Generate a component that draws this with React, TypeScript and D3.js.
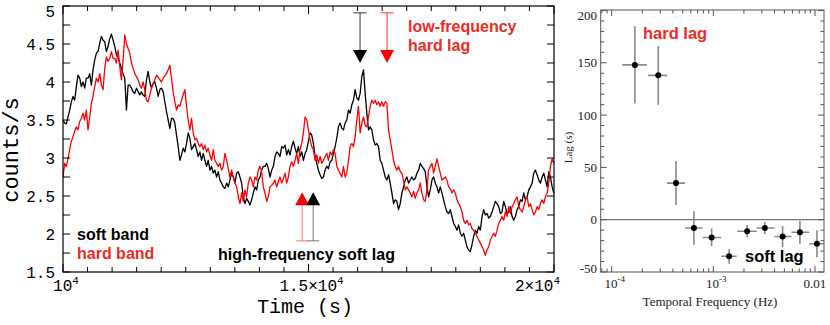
import React from 'react';
import * as d3 from 'd3';

// ---------------- data: light curves (counts/s), regular sampling ----------------
const T_START = 10000;
const T_STEP = 34;

const softBand = [
  3.50, 3.46, 3.45, 3.54, 3.63, 3.74, 3.81, 3.76, 3.94, 4.09,
  4.05, 3.94, 4.00, 3.92, 4.05, 4.05, 4.11, 3.96, 4.16, 4.29,
  4.38, 4.40, 4.51, 4.60, 4.55, 4.53, 4.40, 4.47, 4.57, 4.63,
  4.55, 4.47, 4.36, 4.33, 4.25, 4.18, 4.11, 4.05, 3.63, 3.96,
  3.96, 3.92, 3.87, 3.85, 3.92, 3.87, 3.83, 3.87, 3.83, 3.81,
  4.03, 4.14, 4.00, 3.92, 3.98, 4.00, 3.92, 3.81, 3.90, 3.92,
  3.87, 3.74, 3.61, 3.50, 3.39, 3.52, 3.52, 3.46, 3.30, 3.15,
  2.97, 3.04, 3.13,
  3.08, 3.19, 3.33, 3.26, 3.11, 3.15, 3.19, 3.11, 3.02, 3.08,
  2.97, 3.06, 2.97, 2.89, 2.97, 2.84, 2.89, 2.80, 2.84, 2.75,
  2.82, 2.71, 2.67, 2.62, 2.60, 2.67, 2.62, 2.71, 2.80, 2.75,
  2.67, 2.80, 2.82, 2.75, 2.67, 2.49, 2.40, 2.47, 2.43, 2.38,
  2.45, 2.54, 2.62, 2.58, 2.71, 2.75, 2.84, 2.89, 2.89, 2.93,
  2.86, 2.75, 2.84, 2.89, 3.02, 3.08, 3.06, 3.02, 3.15, 3.13,
  3.17, 3.04, 3.11, 3.04, 3.15, 3.22, 3.13, 3.06, 3.15, 3.02,
  3.08, 2.97,
  3.06, 3.11, 3.22, 3.33, 3.30, 3.19, 3.02, 2.93, 2.84, 2.78,
  2.73, 2.75, 2.84, 2.89, 2.86, 2.95, 2.97, 3.06, 3.15, 3.26,
  3.41, 3.46, 3.39, 3.37, 3.46, 3.50, 3.63, 3.59, 3.70, 3.76,
  3.90, 3.79, 3.76, 3.85, 4.07, 4.16, 3.85, 3.59, 3.37, 3.41,
  3.37, 3.24, 3.17, 3.19, 3.15, 2.97, 2.93, 2.84, 2.75, 2.71,
  2.78, 2.67, 2.54, 2.40, 2.45, 2.43, 2.32, 2.40, 2.54, 2.62,
  2.71, 2.75, 2.67, 2.71, 2.75, 2.71, 2.73, 2.80, 2.84, 2.93,
  2.89, 2.86,
  2.82, 2.62, 2.49, 2.58, 2.71, 2.75, 2.67, 2.62, 2.54, 2.62,
  2.54, 2.45, 2.36, 2.29, 2.27, 2.32, 2.23, 2.14, 2.10, 2.05,
  2.12, 2.01, 1.97, 2.01, 1.92, 1.83, 1.79, 1.77, 1.86, 1.97,
  2.05, 2.01, 2.10, 2.05, 2.23, 2.32, 2.25, 2.27, 2.21, 2.23,
  2.29, 2.36, 2.43, 2.40, 2.36, 2.27, 2.29, 2.43, 2.36, 2.27,
  2.29, 2.36, 2.23, 2.18, 2.23, 2.32, 2.36, 2.45, 2.43, 2.54,
  2.45, 2.49, 2.58, 2.62, 2.67, 2.80, 2.84, 2.78, 2.71, 2.67,
  2.75, 2.80, 2.71, 2.62, 2.82, 2.75, 2.62, 2.54,
];

const hardBand = [
  2.75, 2.93, 2.89, 2.99, 3.11, 3.22, 3.28, 3.35, 3.41, 3.37,
  3.48, 3.52, 3.59, 3.50, 3.63, 3.37, 3.54, 3.72, 3.81, 3.94,
  4.05, 4.00, 4.11, 3.96, 3.90, 4.18, 4.33, 4.27, 4.31, 4.40,
  4.31, 4.31, 4.25, 4.42, 4.20, 4.03, 4.29, 4.62, 4.51, 4.44,
  4.38, 4.25, 4.18, 4.11, 4.07, 4.03, 3.96, 3.92, 4.00, 3.90,
  3.76, 3.74, 3.83, 3.92, 3.98, 4.03, 4.09, 4.06, 4.03, 4.00,
  4.05, 4.08, 4.11, 4.16, 4.22, 4.05, 3.87, 3.74, 3.63, 3.70,
  3.68, 3.76, 3.83,
  3.90, 3.68, 3.50, 3.37, 3.52, 3.33, 3.24, 3.26, 3.19, 3.15,
  3.19, 3.11, 3.17, 3.08, 3.13, 3.04, 2.97, 3.11, 2.97, 2.93,
  2.89, 2.93, 2.84, 2.89, 3.06, 2.97, 2.86, 2.75, 2.84, 2.75,
  2.67, 2.62, 2.49, 2.40, 2.54, 2.43, 2.58, 2.49, 2.67, 2.75,
  2.71, 2.62, 2.75, 2.71, 2.84, 2.89, 2.82, 2.62, 2.54, 2.43,
  2.49, 2.62, 2.64, 2.67, 2.71, 2.62, 2.69, 2.75, 2.67, 2.73,
  2.80, 2.67, 2.75, 2.89, 2.95, 2.89, 2.97, 3.06, 2.93, 3.11,
  3.19, 3.33,
  3.54, 3.50, 3.37, 3.24, 3.15, 3.11, 2.97, 3.04, 2.93, 3.02,
  2.93, 2.97, 3.02, 3.06, 2.97, 3.08, 3.04, 3.11, 3.06, 2.89,
  2.84, 2.80, 2.75, 2.89, 2.75, 2.80, 2.97, 3.15, 3.19, 3.15,
  3.28, 3.50, 3.68, 3.33, 3.46, 3.54, 3.43, 3.41, 3.54, 3.68,
  3.76, 3.72, 3.76, 3.70, 3.74, 3.68, 3.74, 3.68, 3.74, 3.72,
  3.37, 3.24, 3.11, 2.97, 2.89, 2.84, 2.89, 2.82, 2.80, 2.71,
  2.58, 2.62, 2.58, 2.54, 2.49, 2.56, 2.47, 2.54, 2.58, 2.67,
  2.54, 2.45,
  2.43, 2.58, 2.84, 2.89, 2.93, 2.80, 2.89, 2.99, 2.89, 2.80,
  2.71, 2.73, 2.75, 2.71, 2.62, 2.60, 2.54, 2.58, 2.54, 2.45,
  2.40, 2.36, 2.29, 2.18, 2.14, 2.18, 2.12, 2.14, 2.07, 2.05,
  2.01, 1.97, 1.92, 1.88, 1.83, 1.79, 1.72, 1.79, 1.83, 1.92,
  1.97, 2.01, 1.97, 2.05, 2.14, 2.18, 2.23, 2.18, 2.29, 2.23,
  2.36, 2.27, 2.36, 2.40, 2.45, 2.49, 2.36, 2.32, 2.29, 2.36,
  2.45, 2.49, 2.36, 2.40, 2.32, 2.25, 2.29, 2.36, 2.32, 2.40,
  2.45, 2.40, 2.49, 2.54, 2.67, 2.89, 2.99, 2.93,
];

// left axis ticks
const timeDomain = [10000, 20000];
const countDomain = [1.5, 5];
const countTickLabels = [1.5, 2, 2.5, 3, 3.5, 4, 4.5, 5];
const timeTickLabels = [
  { t: 10000, base: '10', exp: '4' },
  { t: 15000, base: '1.5×10', exp: '4' },
  { t: 20000, base: '2×10', exp: '4' },
];

// annotation arrows (time s, counts/s)
const lowFreqArrows = [
  { t: 16050, color: '#000000', line: '#333333' },
  { t: 16600, color: '#ff0000', line: '#ff3030' },
];
const highFreqArrows = [
  { t: 14870, color: '#ff0000', line: '#ff7070' },
  { t: 15095, color: '#000000', line: '#777777' },
];
const ARROW_TOP = 4.91;
const ARROW_DOWN_TIP = 4.25;
const ARROW_BOTTOM = 1.91;
const ARROW_UP_TIP = 2.55;

// ---------------- data: lag-frequency spectrum ----------------
const lagFreq = [1.69e-4, 2.87e-4, 4.29e-4, 6.44e-4, 9.62e-4, 1.43e-3, 2.15e-3, 3.21e-3, 4.80e-3, 7.11e-3, 1.045e-2];
const lagFreqLo = [1.27e-4, 2.27e-4, 3.5e-4, 5.26e-4, 7.85e-4, 1.19e-3, 1.72e-3, 2.67e-3, 4.0e-3, 5.87e-3, 8.77e-3];
const lagFreqHi = [2.22e-4, 3.5e-4, 5.26e-4, 7.85e-4, 1.19e-3, 1.70e-3, 2.67e-3, 4.0e-3, 5.87e-3, 8.77e-3, 1.3e-2];
const lagValue = [148, 138, 35, -8, -17, -35, -11, -8, -16, -12, -23];
const lagErr = [37, 28, 21, 16, 8.5, 7, 6, 6, 10, 11, 13];
const freqDomain = [7.794e-5, 0.012266];
const lagDomain = [-50, 200];
const lagTickLabels = [-50, 0, 50, 100, 150, 200];
const freqTickLabels = [
  { f: 1e-4, base: '10', exp: '-4' },
  { f: 1e-3, base: '10', exp: '-3' },
  { f: 1e-2, base: '0.01', exp: '' },
];

const MONO = "'Liberation Mono', 'Courier New', monospace";
const SANS = "'Liberation Sans', Arial, Helvetica, sans-serif";
const SERIF = "'Liberation Serif', 'Times New Roman', serif";
const RED_TEXT = '#ee2a22';

export default function App() {
  // left panel
  const L = { left: 63, right: 554, top: 6, bottom: 272 };
  const xL = d3.scaleLinear().domain(timeDomain).range([L.left, L.right]);
  const yL = d3.scaleLinear().domain(countDomain).range([L.bottom, L.top]);
  const times = softBand.map((_, i) => T_START + i * T_STEP);
  const lineGen = d3
    .line<number>()
    .x((_, i) => xL(times[i]))
    .y((d) => yL(d));
  const countTicks = d3.range(1.5, 5.001, 0.25);
  const timeTicks = d3.range(10000, 20001, 500);

  // right panel
  const R = { left: 600.7, right: 824, top: 10.5, bottom: 272 };
  const xR = d3.scaleLog().domain(freqDomain).range([R.left, R.right]);
  const yR = d3.scaleLinear().domain(lagDomain).range([R.bottom, R.top]);
  const lagTicks = d3.range(-50, 201, 10);
  const freqTicks: { v: number; major: boolean }[] = [];
  for (let e = -5; e <= -1; e++) {
    for (let m = 1; m <= 9; m++) {
      const v = m * Math.pow(10, e);
      if (v >= freqDomain[0] && v <= freqDomain[1]) freqTicks.push({ v, major: m === 1 });
    }
  }

  const tri = (x: number, yTip: number, dir: 1 | -1) => {
    const h = 13, w = 7;
    return `M${x - w},${yTip - dir * h}L${x + w},${yTip - dir * h}L${x},${yTip}Z`;
  };

  return (
    <svg
      width={830}
      height={325}
      viewBox="0 0 830 325"
      style={{ position: 'absolute', left: 0, top: 0, background: '#fff' }}
    >
      <defs>
        <clipPath id="clipL">
          <rect x={L.left} y={L.top} width={L.right - L.left} height={L.bottom - L.top} />
        </clipPath>
        <clipPath id="clipR">
          <rect x={R.left} y={R.top - 0.5} width={R.right - R.left} height={R.bottom - R.top + 0.5} />
        </clipPath>
      </defs>
      <rect x={0} y={0} width={830} height={325} fill="#fff" />

      {/* ===== LEFT PANEL ===== */}
      <g clipPath="url(#clipL)">
        <path d={lineGen(softBand) || ''} fill="none" stroke="#000" strokeWidth={1.3} strokeLinejoin="round" />
        <path d={lineGen(hardBand) || ''} fill="none" stroke="#ff0000" strokeWidth={1.3} strokeLinejoin="round" />
      </g>

      <rect x={L.left} y={L.top} width={L.right - L.left} height={L.bottom - L.top} fill="none" stroke="#000" strokeWidth={1.2} />

      {countTicks.map((v) => (
        <g key={'cy' + v}>
          <line x1={L.left} x2={L.left + 7} y1={yL(v)} y2={yL(v)} stroke="#000" strokeWidth={1} />
          <line x1={L.right - 7} x2={L.right} y1={yL(v)} y2={yL(v)} stroke="#000" strokeWidth={1} />
        </g>
      ))}
      {countTickLabels.map((v) => (
        <text
          key={'cl' + v}
          x={55}
          y={Math.max(yL(v), 11)}
          dy="0.36em"
          textAnchor="end"
          fontFamily={MONO}
          fontSize={16}
          fill="#000"
        >
          {String(v)}
        </text>
      ))}

      {timeTicks.map((t) => {
        const major = t % 5000 === 0;
        const len = major ? 8 : 5;
        return (
          <g key={'tx' + t}>
            <line x1={xL(t)} x2={xL(t)} y1={L.bottom} y2={L.bottom - len} stroke="#000" strokeWidth={1} />
            <line x1={xL(t)} x2={xL(t)} y1={L.top} y2={L.top + len} stroke="#000" strokeWidth={1} />
          </g>
        );
      })}
      {timeTickLabels.map((d, i) => (
        <text
          key={'tl' + d.t}
          x={i === timeTickLabels.length - 1 ? xL(d.t) + 6 : xL(d.t) + 3}
          y={291}
          textAnchor={i === timeTickLabels.length - 1 ? 'end' : 'middle'}
          fontFamily={MONO}
          fontSize={16}
          fill="#000"
        >
          <tspan>{d.base}</tspan>
          <tspan dy={-7} fontSize={11}>{d.exp}</tspan>
        </text>
      ))}

      <text x={305} y={313} textAnchor="middle" fontFamily={MONO} fontSize={20} fill="#000">
        Time (s)
      </text>
      <text
        transform={`translate(18,150) rotate(-90)`}
        textAnchor="middle"
        fontFamily={MONO}
        fontSize={22}
        fill="#000"
      >
        counts/s
      </text>

      <text x={77} y={240} fontFamily={SANS} fontWeight="bold" fontSize={16} fill="#000">
        soft band
      </text>
      <text x={77} y={258.5} fontFamily={SANS} fontWeight="bold" fontSize={16} fill={RED_TEXT}>
        hard band
      </text>

      {lowFreqArrows.map((a) => {
        const x = xL(a.t);
        return (
          <g key={'la' + a.t}>
            <line x1={x - 6.5} x2={x + 6.5} y1={yL(ARROW_TOP)} y2={yL(ARROW_TOP)} stroke={a.line} strokeWidth={1} />
            <line x1={x} x2={x} y1={yL(ARROW_TOP)} y2={yL(ARROW_DOWN_TIP) - 12} stroke={a.line} strokeWidth={1} />
            <path d={tri(x, yL(ARROW_DOWN_TIP), 1)} fill={a.color} />
          </g>
        );
      })}
      <text x={408} y={32} fontFamily={SANS} fontWeight="bold" fontSize={16} fill={RED_TEXT}>
        low-frequency
      </text>
      <text x={408} y={50.5} fontFamily={SANS} fontWeight="bold" fontSize={16} fill={RED_TEXT}>
        hard lag
      </text>

      {highFreqArrows.map((a) => {
        const x = xL(a.t);
        return (
          <g key={'ha' + a.t}>
            <line x1={x - 6} x2={x + 6} y1={yL(ARROW_BOTTOM)} y2={yL(ARROW_BOTTOM)} stroke={a.line} strokeWidth={1} />
            <line x1={x} x2={x} y1={yL(ARROW_BOTTOM)} y2={yL(ARROW_UP_TIP) + 12} stroke={a.line} strokeWidth={1} />
            <path d={tri(x, yL(ARROW_UP_TIP), -1)} fill={a.color} />
          </g>
        );
      })}
      <text x={218} y={260} fontFamily={SANS} fontWeight="bold" fontSize={16} fill="#000">
        high-frequency soft lag
      </text>

      {/* ===== RIGHT PANEL ===== */}
      <line x1={R.left} x2={R.right} y1={yR(0)} y2={yR(0)} stroke="#777" strokeWidth={1.2} />

      <g clipPath="url(#clipR)">
        {lagFreq.map((f, i) => (
          <g key={'pt' + i}>
            <line
              x1={xR(lagFreqLo[i])}
              x2={xR(lagFreqHi[i])}
              y1={yR(lagValue[i])}
              y2={yR(lagValue[i])}
              stroke="#8a8a8a"
              strokeWidth={1.6}
            />
            <line
              x1={xR(f)}
              x2={xR(f)}
              y1={yR(lagValue[i] + lagErr[i])}
              y2={yR(lagValue[i] - lagErr[i])}
              stroke="#8a8a8a"
              strokeWidth={1.6}
            />
            <circle cx={xR(f)} cy={yR(lagValue[i])} r={3} fill="#000" />
          </g>
        ))}
      </g>

      <rect
        x={R.left}
        y={R.top - 0.5}
        width={R.right - R.left}
        height={R.bottom - R.top + 0.5}
        fill="none"
        stroke="#555"
        strokeWidth={1}
      />

      {lagTicks.map((v) => {
        const major = v % 50 === 0;
        const len = major ? 6 : 3.5;
        return (
          <g key={'ly' + v}>
            <line x1={R.left} x2={R.left + len} y1={yR(v)} y2={yR(v)} stroke="#555" strokeWidth={1} />
            <line x1={R.right - len} x2={R.right} y1={yR(v)} y2={yR(v)} stroke="#555" strokeWidth={1} />
          </g>
        );
      })}
      {lagTickLabels.map((v) => (
        <text
          key={'lyl' + v}
          x={597}
          y={Math.min(Math.max(yR(v), 15), 268)}
          dy="0.35em"
          textAnchor="end"
          fontFamily={SERIF}
          fontSize={13}
          fill="#222"
        >
          {v < 0 ? '-' + Math.abs(v) : String(v)}
        </text>
      ))}
      {freqTicks.map((d) => {
        const len = d.major ? 6 : 3.5;
        const x = xR(d.v);
        return (
          <g key={'fx' + d.v}>
            <line x1={x} x2={x} y1={R.bottom} y2={R.bottom - len} stroke="#555" strokeWidth={1} />
            <line x1={x} x2={x} y1={R.top - 0.5} y2={R.top - 0.5 + len} stroke="#555" strokeWidth={1} />
          </g>
        );
      })}
      {freqTickLabels.map((d) => (
        <text
          key={'fl' + d.f}
          x={xR(d.f) + (d.exp ? 3 : 0)}
          y={288}
          textAnchor="middle"
          fontFamily={SERIF}
          fontSize={13}
          fill="#222"
        >
          <tspan>{d.base}</tspan>
          {d.exp ? (
            <tspan dy={-6} fontSize={9}>
              {d.exp}
            </tspan>
          ) : null}
        </text>
      ))}

      <text x={710} y={306} textAnchor="middle" fontFamily={SERIF} fontSize={13} fill="#222">
        Temporal Frequency (Hz)
      </text>
      <text
        transform={`translate(572,147.5) rotate(-90)`}
        textAnchor="middle"
        fontFamily={SERIF}
        fontSize={11}
        fill="#222"
      >
        Lag (s)
      </text>

      <text x={643} y={38.5} fontFamily={SANS} fontWeight="bold" fontSize={16.5} fill={RED_TEXT}>
        hard lag
      </text>
      <text x={745} y={262} fontFamily={SANS} fontWeight="bold" fontSize={16.5} fill="#000">
        soft lag
      </text>
    </svg>
  );
}
